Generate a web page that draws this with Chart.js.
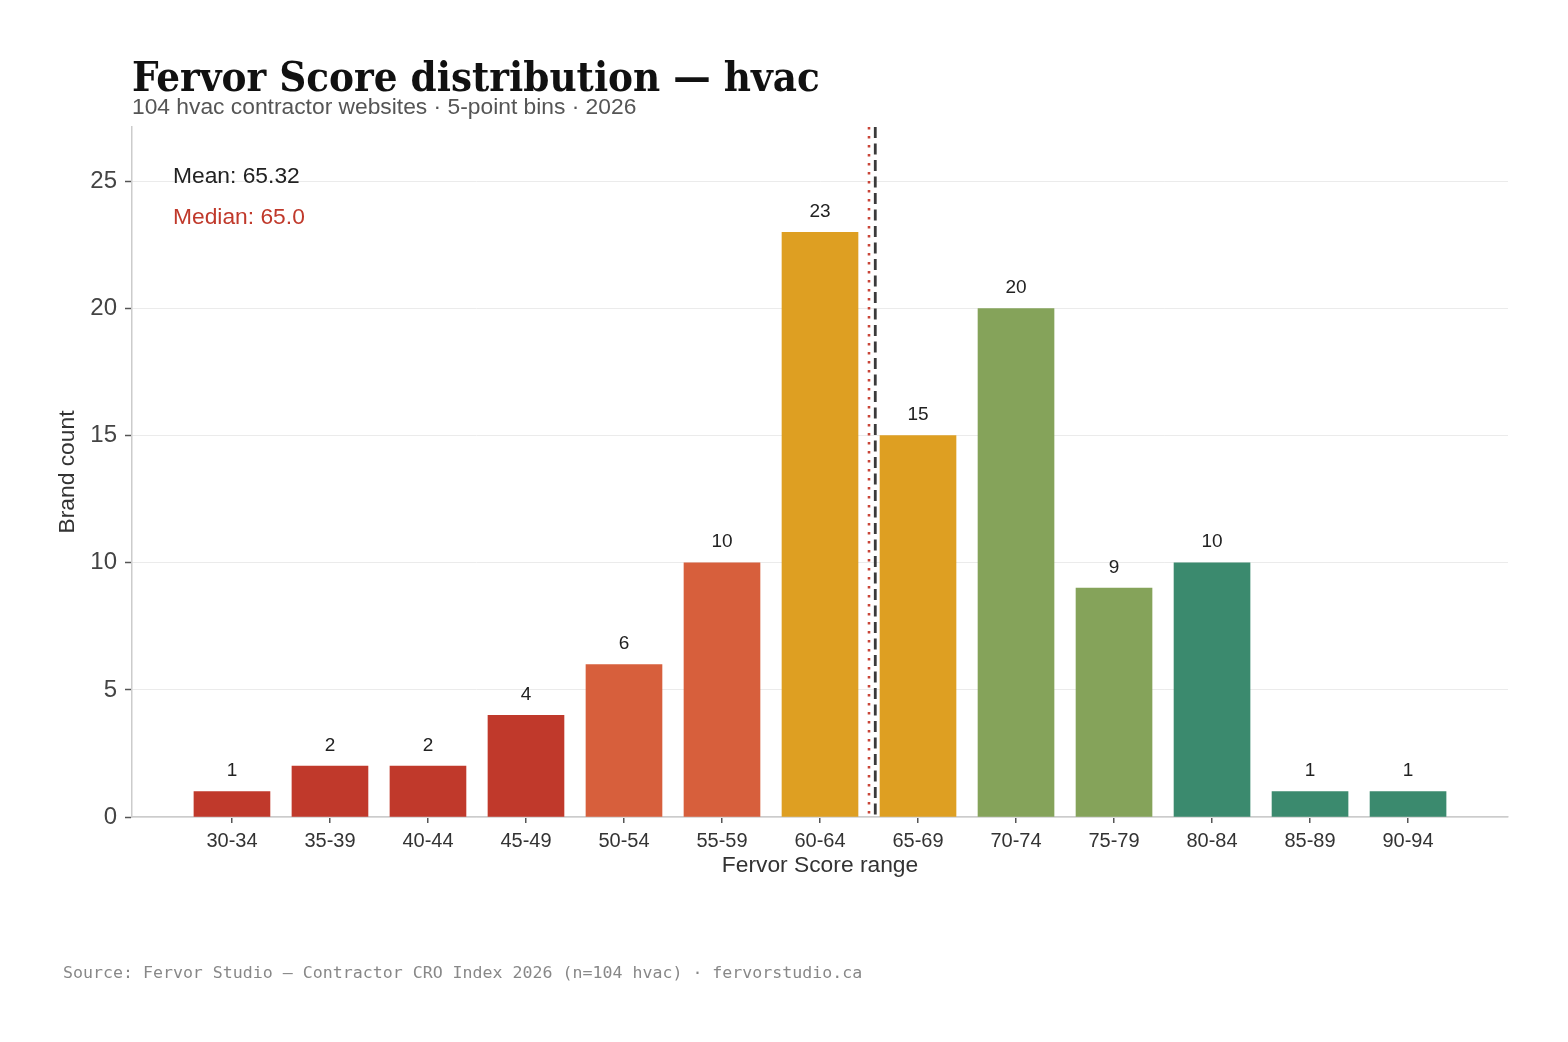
<!DOCTYPE html>
<html>
<head>
<meta charset="utf-8">
<script src="https://cdn.jsdelivr.net/npm/chart.js@4.4.1/dist/chart.umd.min.js"></script>
<style>
  html, body { margin: 0; padding: 0; background: #fff; }
  #wrap { width: 1568px; height: 1042px; position: relative; }
</style>
</head>
<body>
<div id="wrap"><canvas id="scoreChart" width="1568" height="1042"></canvas></div>
<script>
// Data
const bins = ["30-34", "35-39", "40-44", "45-49", "50-54", "55-59", "60-64", "65-69", "70-74", "75-79", "80-84", "85-89", "90-94"];
const counts = [1, 2, 2, 4, 6, 10, 23, 15, 20, 9, 10, 1, 1];
const barColors = ["#c0392b", "#c0392b", "#c0392b", "#c0392b", "#d75f3c", "#d75f3c", "#de9f22", "#de9f22", "#85a35a", "#85a35a", "#3b8a6e", "#3b8a6e", "#3b8a6e"];
const yTicks = [0, 5, 10, 15, 20, 25];
const meanScore = 65.32;
const medianScore = 65.0;

const sans = "'Liberation Sans', Arial, sans-serif";

// score -> position on the bin axis (bin i covers 30+5i .. 35+5i)
function scoreToX(v) { return (v - 30) / 5 - 0.5; }

const extras = {
  id: "extras",
  afterDatasetsDraw(chart) {
    const { ctx, chartArea, scales } = chart;
    const x = scales.x, y = scales.y;
    ctx.save();

    // value labels
    ctx.font = "19px " + sans;
    ctx.fillStyle = "#222";
    ctx.textAlign = "center";
    ctx.textBaseline = "bottom";
    counts.forEach((c, i) => {
      ctx.fillText(String(c), x.getPixelForValue(i), y.getPixelForValue(c) - 11);
    });

    // median (dotted red)
    let mx = x.getPixelForValue(scoreToX(medianScore));
    ctx.strokeStyle = "#c94538";
    ctx.lineWidth = 2.6;
    ctx.setLineDash([2.6, 6.4]);
    ctx.beginPath();
    ctx.moveTo(mx, chartArea.top);
    ctx.lineTo(mx, chartArea.bottom);
    ctx.stroke();

    // mean (dashed dark)
    mx = x.getPixelForValue(scoreToX(meanScore));
    ctx.strokeStyle = "#3a3a3a";
    ctx.lineWidth = 2.8;
    ctx.setLineDash([11, 5.5]);
    ctx.beginPath();
    ctx.moveTo(mx, chartArea.top);
    ctx.lineTo(mx, chartArea.bottom);
    ctx.stroke();
    ctx.setLineDash([]);

    // annotations
    ctx.textAlign = "left";
    ctx.textBaseline = "middle";
    ctx.font = "22.8px " + sans;
    ctx.fillStyle = "#222";
    ctx.fillText("Mean: " + meanScore.toFixed(2), 173, 177);
    ctx.fillStyle = "#c0392b";
    ctx.fillText("Median: " + medianScore.toFixed(1), 173, 218);

    // title + subtitle
    ctx.textBaseline = "alphabetic";
    ctx.fillStyle = "#111";
    ctx.fontStretch = "condensed";
    ctx.font = "bold 41.6px 'DejaVu Serif Condensed', 'DejaVu Serif', serif";
    ctx.fillText("Fervor Score distribution \u2014 hvac", 132, 91);
    ctx.fontStretch = "normal";
    ctx.fillStyle = "#555";
    ctx.font = "22.8px " + sans;
    ctx.fillText("104 hvac contractor websites \u00b7 5-point bins \u00b7 2026", 132, 114);

    // footer
    ctx.fillStyle = "#888";
    ctx.font = "16.6px 'DejaVu Sans Mono', monospace";
    ctx.fillText("Source: Fervor Studio \u2014 Contractor CRO Index 2026 (n=104 hvac) \u00b7 fervorstudio.ca", 63, 978);

    ctx.restore();
  }
};

new Chart(document.getElementById("scoreChart").getContext("2d"), {
  type: "bar",
  data: {
    datasets: [{
      data: counts.map((c, i) => ({ x: i, y: c })),
      backgroundColor: barColors,
      barThickness: 76,
      borderWidth: 0
    }]
  },
  options: {
    responsive: false,
    animation: false,
    layout: { padding: { left: 0, top: 127, right: 60, bottom: 163 } },
    plugins: { legend: { display: false }, tooltip: { enabled: false } },
    scales: {
      x: {
        type: "linear",
        offset: false,
        min: -1.02,
        max: 13.02,
        afterBuildTicks: s => { s.ticks = bins.map((b, i) => ({ value: i })); },
        afterFit: s => { s.height = 62; },
        ticks: {
          callback: v => bins[v] ?? "",
          font: { size: 20, family: sans },
          color: "#333",
          padding: 6,
          maxRotation: 0,
          autoSkip: false
        },
        grid: { offset: false, drawOnChartArea: false, drawTicks: true, tickLength: 6, color: "#555", lineWidth: 1.5 },
        border: { color: "#ccc", width: 1.5 },
        title: { display: true, text: "Fervor Score range", font: { size: 22.8, family: sans }, color: "#333", padding: { top: 0, bottom: 0 } }
      },
      y: {
        min: 0,
        max: 27.14,
        afterBuildTicks: s => { s.ticks = yTicks.map(v => ({ value: v })); },
        afterFit: s => { s.width = 132; },
        ticks: { font: { size: 24, family: sans }, color: "#444", padding: 8 },
        grid: { color: "#ebebeb", lineWidth: 1, drawTicks: true, tickLength: 7, tickColor: "#555", tickWidth: 1.5 },
        border: { color: "#ccc", width: 1.5 },
        title: { display: true, text: "Brand count", font: { size: 22.8, family: sans }, color: "#333", padding: { top: 54, bottom: 0 } }
      }
    }
  },
  plugins: [extras]
});
</script>
</body>
</html>
